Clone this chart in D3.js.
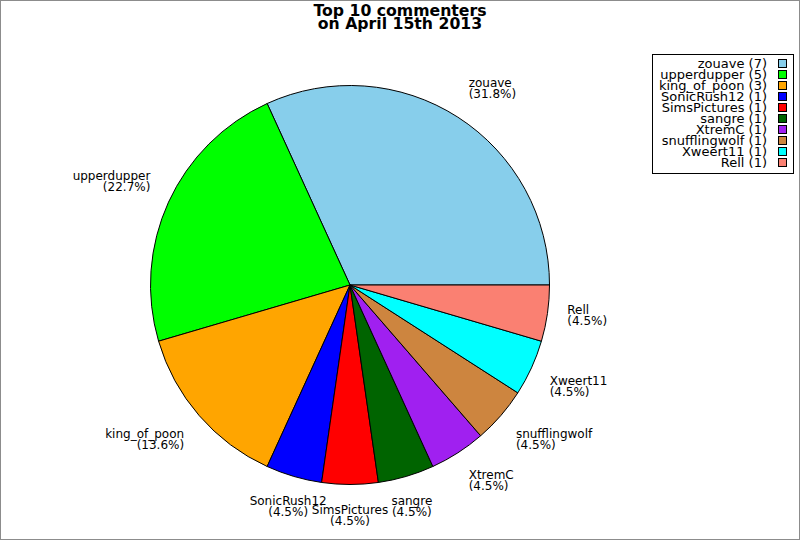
<!DOCTYPE html>
<html><head><meta charset="utf-8">
<script src="https://cdn.jsdelivr.net/npm/d3@7/dist/d3.min.js"></script>
<style>body{margin:0;background:#fff}svg{display:block}text{font-family:"DejaVu Sans",sans-serif}</style>
</head><body>
<script>
const names = ["zouave","upperdupper","king_of_poon","SonicRush12","SimsPictures","sangre","XtremC","snufflingwolf","Xweert11","Rell"];
const counts = [7,5,3,1,1,1,1,1,1,1];
const colors = ["#87CEEB","#00FF00","#FFA500","#0000FF","#FF0000","#006400","#A020F0","#CD853F","#00FFFF","#FA8072"];
const titleLines = ["Top 10 commenters","on April 15th 2013"];

const W=800,H=540, cx=350, cy=285, R=199.5, RL=219.5;
const svg=d3.select("body").append("svg").attr("width",W).attr("height",H);
svg.append("rect").attr("x",0.5).attr("y",0.5).attr("width",W-1).attr("height",H-1).attr("fill","#fff").attr("stroke","#8c8c8c");

const total=d3.sum(counts);
const data=names.map((n,i)=>({name:n,value:counts[i],color:colors[i]}));
const pie=d3.pie().value(d=>d.value).sort(null).startAngle(Math.PI/2).endAngle(Math.PI/2-2*Math.PI);
const arcs=pie(data);
const arc=d3.arc().innerRadius(0).outerRadius(R);
const g=svg.append("g").attr("transform",`translate(${cx},${cy})`);
g.selectAll("path").data(arcs).join("path").attr("d",arc).attr("fill",d=>d.data.color).attr("stroke","#000").attr("stroke-width",1).attr("stroke-linejoin","round");

const fmt=d3.format(".1f");
arcs.forEach(a=>{
  const m=(a.startAngle+a.endAngle)/2;
  const x=RL*Math.sin(m), y=-RL*Math.cos(m);
  let th=(90-m*180/Math.PI)%360; if(th<0) th+=360;
  const nearV = Math.abs(th-90)<22.5 || Math.abs(th-270)<22.5;
  const nearH = th<22.5 || th>337.5 || Math.abs(th-180)<22.5;
  const anchor = nearV ? "middle" : (Math.cos(th*Math.PI/180)>0 ? "start":"end");
  let b1;
  if(nearH) b1=y-2.3; else if(Math.sin(th*Math.PI/180)>0) b1=y-13.5; else b1=y+9;
  const t=g.append("text").attr("text-anchor",anchor).attr("font-size",12).attr("fill","#000");
  t.append("tspan").attr("x",x).attr("y",b1).text(a.data.name);
  t.append("tspan").attr("x",x).attr("y",b1+11).text("("+fmt(a.data.value/total*100)+"%)");
});

svg.selectAll("text.title").data(titleLines).join("text").attr("class","title")
  .attr("x",400).attr("y",(d,i)=>15.5+i*13.5).attr("text-anchor","middle")
  .attr("font-size",15.7).attr("font-weight","bold").text(d=>d);

const lg=svg.append("g");
lg.append("rect").attr("x",652.5).attr("y",54.5).attr("width",141).attr("height",119).attr("fill","#fff").attr("stroke","#000");
data.forEach((d,i)=>{
  const by=68+i*11;
  lg.append("text").attr("x",767).attr("y",by).attr("text-anchor","end").attr("font-size",13).text(`${d.name} (${d.value})`);
  lg.append("rect").attr("x",778.5).attr("y",by-8.5).attr("width",8).attr("height",8).attr("fill",d.color).attr("stroke","#000");
});
</script>
</body></html>
